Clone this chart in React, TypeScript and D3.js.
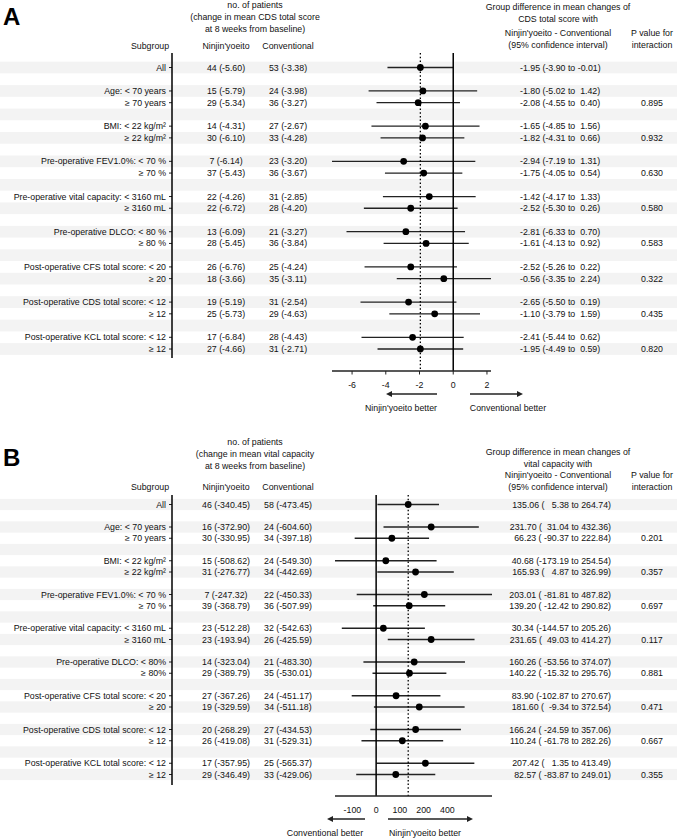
import React from 'react';
import * as d3 from 'd3';

const FONT = '"Liberation Sans", Arial, sans-serif';
const FS = 8.8;

// subgroup rows (the "All" row, then pairs per factor)
const subgroupsA = [
  'All',
  'Age: < 70 years', '≥ 70 years',
  'BMI: < 22 kg/m²', '≥ 22 kg/m²',
  'Pre-operative FEV1.0%: < 70 %', '≥ 70 %',
  'Pre-operative vital capacity: < 3160 mL', '≥ 3160 mL',
  'Pre-operative DLCO: < 80 %', '≥ 80 %',
  'Post-operative CFS total score: < 20', '≥ 20',
  'Post-operative CDS total score: < 12', '≥ 12',
  'Post-operative KCL total score: < 12', '≥ 12',
];
const subgroupsB = subgroupsA.map(s => s.replace('< 80 %', '< 80%').replace('≥ 80 %', '≥ 80%'));

// A: CDS total score
const ninNA = [44, 15, 29, 14, 30, 7, 37, 22, 22, 13, 28, 26, 18, 19, 25, 17, 27];
const ninMeanA = [-5.60, -5.79, -5.34, -4.31, -6.10, -6.14, -5.43, -4.26, -6.72, -6.09, -5.45, -6.76, -3.66, -5.19, -5.73, -6.84, -4.66];
const conNA = [53, 24, 36, 27, 33, 23, 36, 31, 28, 21, 36, 25, 35, 31, 29, 28, 31];
const conMeanA = [-3.38, -3.98, -3.27, -2.67, -4.28, -3.20, -3.67, -2.85, -4.20, -3.27, -3.84, -4.24, -3.11, -2.54, -4.63, -4.43, -2.71];
const diffA = [-1.95, -1.80, -2.08, -1.65, -1.82, -2.94, -1.75, -1.42, -2.52, -2.81, -1.61, -2.52, -0.56, -2.65, -1.10, -2.41, -1.95];
const lowA = [-3.90, -5.02, -4.55, -4.85, -4.31, -7.19, -4.05, -4.17, -5.30, -6.33, -4.13, -5.26, -3.35, -5.50, -3.79, -5.44, -4.49];
const highA = [-0.01, 1.42, 0.40, 1.56, 0.66, 1.31, 0.54, 1.33, 0.26, 0.70, 0.92, 0.22, 2.24, 0.19, 1.59, 0.62, 0.59];
const pA = [null, null, 0.895, null, 0.932, null, 0.630, null, 0.580, null, 0.583, null, 0.322, null, 0.435, null, 0.820];
const ticksA = [-6, -4, -2, 0, 2];
const tickLabelsA = ['-6', '-4', '-2', '0', '2'];

// B: vital capacity
const ninNB = [46, 16, 30, 15, 31, 7, 39, 23, 23, 14, 29, 27, 19, 20, 26, 17, 29];
const ninMeanB = [-340.45, -372.90, -330.95, -508.62, -276.77, -247.32, -368.79, -512.28, -193.94, -323.04, -389.79, -367.26, -329.59, -268.29, -419.08, -357.95, -346.49];
const conNB = [58, 24, 34, 24, 34, 22, 36, 32, 26, 21, 35, 24, 34, 27, 31, 25, 33];
const conMeanB = [-473.45, -604.60, -397.18, -549.30, -442.69, -450.33, -507.99, -542.63, -425.59, -483.30, -530.01, -451.17, -511.18, -434.53, -529.31, -565.37, -429.06];
const diffB = [135.06, 231.70, 66.23, 40.68, 165.93, 203.01, 139.20, 30.34, 231.65, 160.26, 140.22, 83.90, 181.60, 166.24, 110.24, 207.42, 82.57];
const lowB = [5.38, 31.04, -90.37, -173.19, 4.87, -81.81, -12.42, -144.57, 49.03, -53.56, -15.32, -102.87, -9.34, -24.59, -61.78, 1.35, -83.87];
const highB = [264.74, 432.36, 222.84, 254.54, 326.99, 487.82, 290.82, 205.26, 414.27, 374.07, 295.76, 270.67, 372.54, 357.06, 282.26, 413.49, 249.01];
const pB = [null, null, 0.201, null, 0.357, null, 0.697, null, 0.117, null, 0.881, null, 0.471, null, 0.667, null, 0.355];
const ticksB = [-100, 0, 100, 200, 300];
const tickLabelsB = ['-100', '0', '100', '200', '400'];

const rowOf = (i: number) => (i === 0 ? 0 : 2 + 3 * Math.floor((i - 1) / 2) + ((i - 1) % 2));
const NROWS = 25;

function Arrow({ x1, x2, y }: { x1: number; x2: number; y: number }) {
  const dir = Math.sign(x2 - x1);
  return (
    <g>
      <line x1={x1} x2={x2 - dir * 4} y1={y} y2={y} stroke="#222" strokeWidth={1.4} />
      <path d={`M${x2},${y}L${x2 - dir * 6},${y - 3}L${x2 - dir * 6},${y + 3}Z`} fill="#222" />
    </g>
  );
}

function Panel(props: any) {
  const { letter, lay, head, right, labels, nN, mN, nC, mC, est, lo, hi, pv, ciText, ticks, tickLabels, tickMarks, arrows } = props;
  const x = d3.scaleLinear().domain([d3.min(lo) as number, d3.max(hi) as number]).range(lay.range);
  const y = (r: number) => lay.y0 + r * lay.rowH;
  const txt = { fontFamily: FONT, fontSize: FS, fill: '#111' };
  return (
    <g>
      {d3.range(NROWS).filter(r => r % 2 === 0).map(r => (
        <rect key={r} x={0} width={677} y={y(r) - lay.rowH / 2} height={lay.rowH} fill="#f3f3f3" />
      ))}
      <text x={lay.letterX} y={lay.letterY} fontFamily={FONT} fontWeight="bold" fontSize={24} fill="#000">{letter}</text>
      {head.map((h: string, i: number) => (
        <text key={i} x={255} y={lay.headY[i]} textAnchor="middle" dominantBaseline="central" {...txt}>{h}</text>
      ))}
      {right.map((h: string, i: number) => (
        <text key={i} x={558} y={lay.rightY[i]} textAnchor="middle" dominantBaseline="central" {...txt}>{h}</text>
      ))}
      <text x={652} y={lay.rightY[2]} textAnchor="middle" dominantBaseline="central" {...txt}>P value for</text>
      <text x={652} y={lay.rightY[3]} textAnchor="middle" dominantBaseline="central" {...txt}>interaction</text>
      <text x={150} y={lay.colY} textAnchor="middle" dominantBaseline="central" {...txt}>Subgroup</text>
      <text x={226} y={lay.colY} textAnchor="middle" dominantBaseline="central" {...txt}>Ninjin'yoeito</text>
      <text x={288} y={lay.colY} textAnchor="middle" dominantBaseline="central" {...txt}>Conventional</text>

      {labels.map((s: string, i: number) => {
        const yy = y(rowOf(i));
        return (
          <g key={i}>
            <text x={166} y={yy} textAnchor="end" dominantBaseline="central" {...txt}>{s}</text>
            <line x1={169} x2={172} y1={yy} y2={yy} stroke="#222" strokeWidth={1} />
            <text x={226} y={yy} textAnchor="middle" dominantBaseline="central" {...txt}>{`${nN[i]} (${mN[i].toFixed(2)})`}</text>
            <text x={288} y={yy} textAnchor="middle" dominantBaseline="central" {...txt}>{`${nC[i]} (${mC[i].toFixed(2)})`}</text>
            <text x={lay.ciX} y={yy} textAnchor={lay.ciAnchor} dominantBaseline="central" style={{ whiteSpace: 'pre' }} {...txt}>{ciText(i)}</text>
            {pv[i] != null && (
              <text x={652} y={yy} textAnchor="middle" dominantBaseline="central" {...txt}>{pv[i].toFixed(3)}</text>
            )}
            <line x1={x(lo[i])} x2={x(hi[i])} y1={yy} y2={yy} stroke="#222" strokeWidth={1.3} />
            <circle cx={x(est[i])} cy={yy} r={3.4} fill="#000" />
          </g>
        );
      })}

      <line x1={172} x2={172} y1={lay.top} y2={lay.tableBottom} stroke="#000" strokeWidth={1.5} />
      <line x1={x(0)} x2={x(0)} y1={lay.top} y2={lay.axisY} stroke="#000" strokeWidth={1.5} />
      <line x1={x(est[0])} x2={x(est[0])} y1={lay.top} y2={lay.axisY} stroke="#000" strokeWidth={1.3} strokeDasharray="1.5,2.2" />

      <line x1={lay.range[0]} x2={lay.range[1]} y1={lay.axisY} y2={lay.axisY} stroke="#222" strokeWidth={1.4} />
      {ticks.map((t: number, i: number) => (
        <g key={t}>
          {tickMarks && <line x1={x(t)} x2={x(t)} y1={lay.axisY} y2={lay.axisY + 3.5} stroke="#222" strokeWidth={1} />}
          <text x={x(t)} y={lay.axisY + 14} textAnchor="middle" dominantBaseline="central" {...txt}>{tickLabels[i]}</text>
        </g>
      ))}
      {arrows.map((a: any, i: number) => (
        <g key={i}>
          <Arrow x1={a.x1} x2={a.x2} y={lay.axisY + 23} />
          <text x={a.tx} y={lay.axisY + 37} textAnchor="middle" dominantBaseline="central" {...txt}>{a.label}</text>
        </g>
      ))}
    </g>
  );
}

export default function App() {
  const layA = {
    y0: 67.5, rowH: 11.73, top: 53, tableBottom: 358, axisY: 371, range: [332, 491],
    letterX: 3, letterY: 25, headY: [4.5, 16.5, 28.5], rightY: [7, 18.5, 32.5, 44.5], colY: 46,
    ciX: 520, ciAnchor: 'start',
  };
  const layB = {
    y0: 504.5, rowH: 11.25, top: 495, tableBottom: 785, axisY: 796, range: [335, 492],
    letterX: 3, letterY: 466, headY: [442, 454, 466], rightY: [452, 463.5, 475, 486.5], colY: 487,
    ciX: 611, ciAnchor: 'end',
  };
  return (
    <svg width={677} height={838} style={{ position: 'absolute', left: 0, top: 0, background: '#fff' }}>
      <rect width={677} height={838} fill="#fff" />
      <Panel
        letter="A" lay={layA}
        head={['no. of patients', '(change in mean CDS total score', 'at 8 weeks from baseline)']}
        right={['Group difference in mean changes of', 'CDS total score with', "Ninjin'yoeito - Conventional", '(95% confidence interval)']}
        labels={subgroupsA} nN={ninNA} mN={ninMeanA} nC={conNA} mC={conMeanA}
        est={diffA} lo={lowA} hi={highA} pv={pA}
        ciText={(i: number) => `${diffA[i].toFixed(2)} (${lowA[i].toFixed(2)} to ${highA[i].toFixed(2).padStart(5, ' ')})`}
        ticks={ticksA} tickLabels={tickLabelsA} tickMarks={true}
        arrows={[
          { x1: 437, x2: 386, tx: 401, label: "Ninjin'yoeito better" },
          { x1: 470, x2: 523, tx: 508, label: 'Conventional better' },
        ]}
      />
      <Panel
        letter="B" lay={layB}
        head={['no. of patients', '(change in mean vital capacity', 'at 8 weeks from baseline)']}
        right={['Group difference in mean changes of', 'vital capacity with', "Ninjin'yoeito - Conventional", '(95% confidence interval)']}
        labels={subgroupsB} nN={ninNB} mN={ninMeanB} nC={conNB} mC={conMeanB}
        est={diffB} lo={lowB} hi={highB} pv={pB}
        ciText={(i: number) => `${diffB[i].toFixed(2)} (${lowB[i].toFixed(2).padStart(7, ' ')} to ${highB[i].toFixed(2)})`}
        ticks={ticksB} tickLabels={tickLabelsB} tickMarks={false}
        arrows={[
          { x1: 365, x2: 327, tx: 325, label: 'Conventional  better' },
          { x1: 388, x2: 473, tx: 425, label: "Ninjin'yoeito better" },
        ]}
      />
    </svg>
  );
}
